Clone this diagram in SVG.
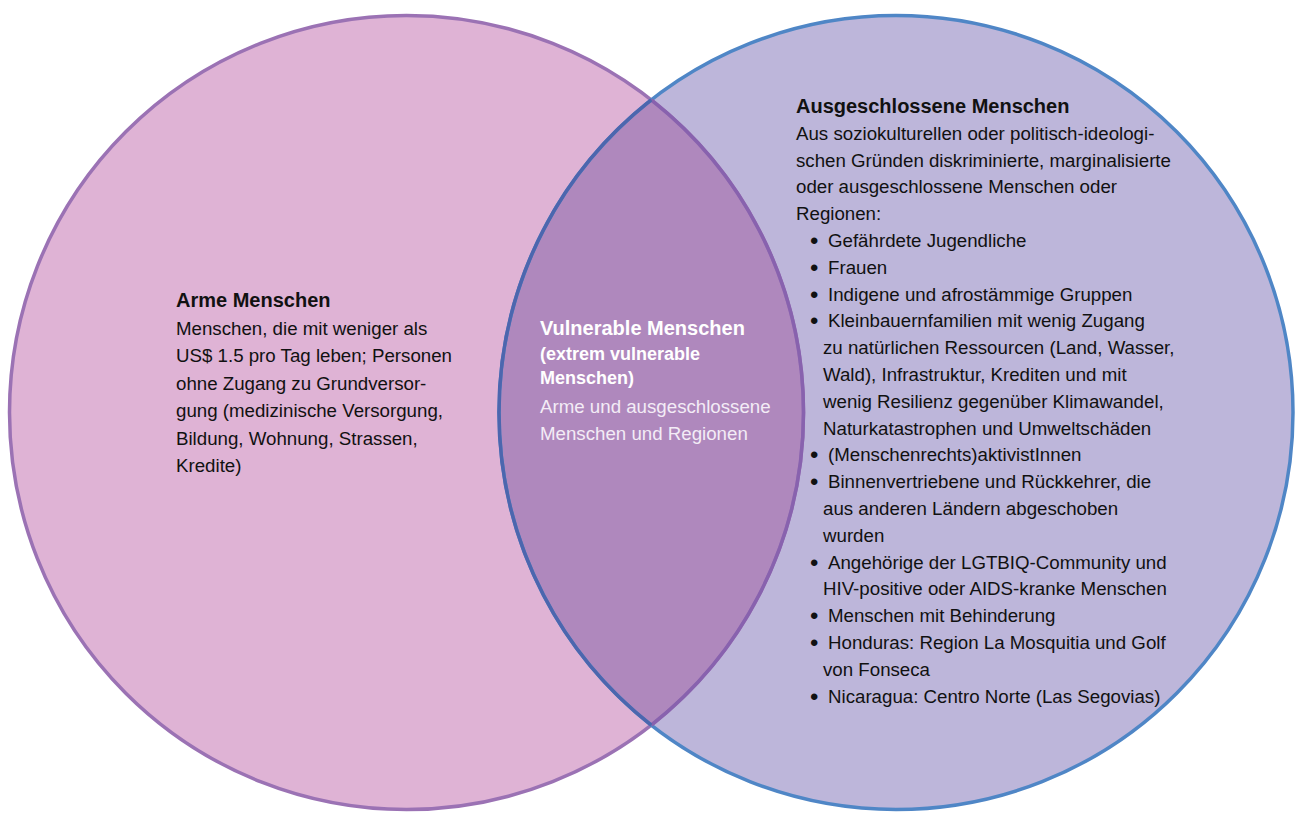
<svg xmlns="http://www.w3.org/2000/svg" width="1295" height="815" viewBox="0 0 1295 815">
<style>
.t{font-family:"Liberation Sans",Arial,sans-serif;font-size:18.7px;fill:#111111}
.b{font-weight:bold;font-size:20px}
.w{fill:#ffffff}
.wl{fill:#f3ecf6}
.sb{font-weight:bold;font-size:18px}
.bu{font-family:"Liberation Sans",Arial,sans-serif;font-size:24px;fill:#111111}
</style>
<rect width="1295" height="815" fill="#ffffff"/>
<g id="shapes">
<circle id="arme-fill" cx="406.5" cy="412.5" r="397" fill="#dfb3d5"/>
<circle id="ausg-fill" cx="896" cy="412.5" r="397" fill="#bdb6da"/>
<path id="lens" d="M651.25 99.9 A397 397 0 0 1 651.25 725.1 A397 397 0 0 1 651.25 99.9 Z" fill="#af88bd"/>
<circle cx="406.5" cy="412.5" r="397" fill="none" stroke="#9b72b4" stroke-width="3.5"/>
<circle cx="896" cy="412.5" r="397" fill="none" stroke="#4f86c6" stroke-width="3.5"/>
<path d="M651.25 99.9 A397 397 0 0 1 651.25 725.1" fill="none" stroke="#8862ae" stroke-width="3.5"/>
<path d="M651.25 725.1 A397 397 0 0 1 651.25 99.9" fill="none" stroke="#4c66ae" stroke-width="3.5"/>
</g>
<g id="connectors"></g>
<g id="node-arme">
<text class="t b" x="176" y="307">Arme Menschen</text>
<text class="t" x="176" y="334.5">Menschen, die mit weniger als</text>
<text class="t" x="176" y="362">US$ 1.5 pro Tag leben; Personen</text>
<text class="t" x="176" y="389.5">ohne Zugang zu Grundversor-</text>
<text class="t" x="176" y="417">gung (medizinische Versorgung,</text>
<text class="t" x="176" y="444.5">Bildung, Wohnung, Strassen,</text>
<text class="t" x="176" y="472">Kredite)</text>
</g>
<g id="node-vulnerable">
<text class="t b w" x="540" y="335">Vulnerable Menschen</text>
<text class="t sb w" x="540" y="360">(extrem vulnerable</text>
<text class="t sb w" x="540" y="384">Menschen)</text>
<text class="t wl" x="540" y="413">Arme und ausgeschlossene</text>
<text class="t wl" x="540" y="440">Menschen und Regionen</text>
</g>
<g id="node-ausgeschlossen">
<text class="t b" x="796" y="113">Ausgeschlossene Menschen</text>
<text class="t" x="796" y="139.8">Aus soziokulturellen oder politisch-ideologi-</text>
<text class="t" x="796" y="166.6">schen Gründen diskriminierte, marginalisierte</text>
<text class="t" x="796" y="193.4">oder ausgeschlossene Menschen oder</text>
<text class="t" x="796" y="220.2">Regionen:</text>
<text class="bu" x="810" y="249">•</text><text class="t" x="828" y="247">Gefährdete Jugendliche</text>
<text class="bu" x="810" y="275.8">•</text><text class="t" x="828" y="273.8">Frauen</text>
<text class="bu" x="810" y="302.6">•</text><text class="t" x="828" y="300.6">Indigene und afrostämmige Gruppen</text>
<text class="bu" x="810" y="329.4">•</text><text class="t" x="828" y="327.4">Kleinbauernfamilien mit wenig Zugang</text>
<text class="t" x="823" y="354.2">zu natürlichen Ressourcen (Land, Wasser,</text>
<text class="t" x="823" y="381">Wald), Infrastruktur, Krediten und mit</text>
<text class="t" x="823" y="407.8">wenig Resilienz gegenüber Klimawandel,</text>
<text class="t" x="823" y="434.6">Naturkatastrophen und Umweltschäden</text>
<text class="bu" x="810" y="463.4">•</text><text class="t" x="828" y="461.4">(Menschenrechts)aktivistInnen</text>
<text class="bu" x="810" y="490.2">•</text><text class="t" x="828" y="488.2">Binnenvertriebene und Rückkehrer, die</text>
<text class="t" x="823" y="515">aus anderen Ländern abgeschoben</text>
<text class="t" x="823" y="541.8">wurden</text>
<text class="bu" x="810" y="570.6">•</text><text class="t" x="828" y="568.6">Angehörige der LGTBIQ-Community und</text>
<text class="t" x="823" y="595.4">HIV-positive oder AIDS-kranke Menschen</text>
<text class="bu" x="810" y="624.2">•</text><text class="t" x="828" y="622.2">Menschen mit Behinderung</text>
<text class="bu" x="810" y="651">•</text><text class="t" x="828" y="649">Honduras: Region La Mosquitia und Golf</text>
<text class="t" x="823" y="675.8">von Fonseca</text>
<text class="bu" x="810" y="704.6">•</text><text class="t" x="828" y="702.6">Nicaragua: Centro Norte (Las Segovias)</text>
</g>
</svg>
